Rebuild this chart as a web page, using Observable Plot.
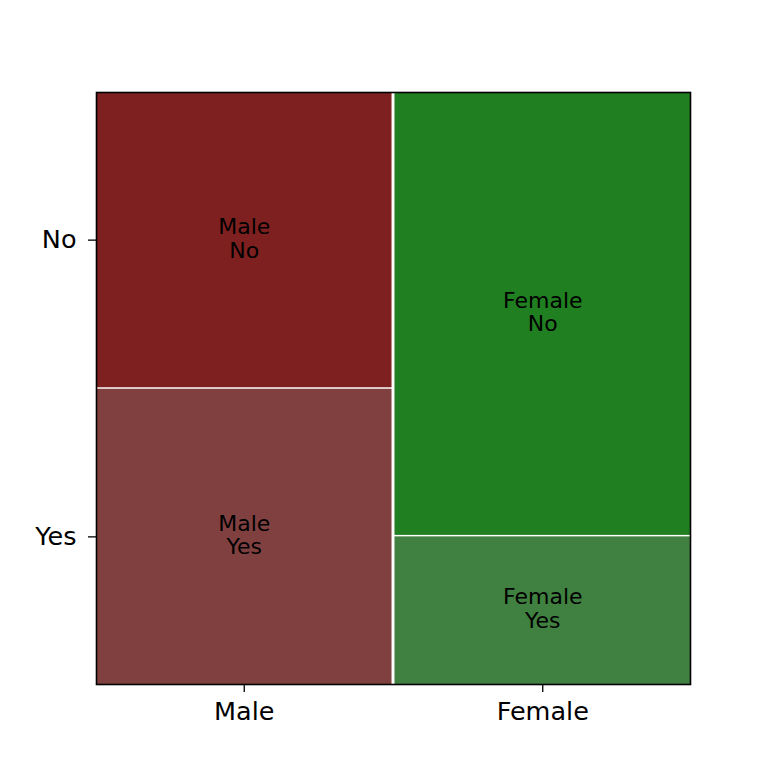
<!DOCTYPE html>
<html><head><meta charset="utf-8">
<script src="https://cdn.jsdelivr.net/npm/d3@7"></script>
<script src="https://cdn.jsdelivr.net/npm/@observablehq/plot@0.6"></script>
<style>body{margin:0;background:#fff}</style>
</head><body><div id="chart"></div>
<script>
const genders = ["Male", "Female"];
const answers = ["No", "Yes"];
const maleCounts = [50, 50];
const femaleCounts = [75, 25];
const tileColors = {"Male|No": "#7f2020", "Male|Yes": "#804040", "Female|No": "#207f20", "Female|Yes": "#408040"};

const counts = [maleCounts, femaleCounts];
const xgap = 0.005, ygap = 0.0025;
const grand = d3.sum(counts.flat());
const tiles = [];
let x0 = 0;
genders.forEach((g, i) => {
  const tot = d3.sum(counts[i]);
  const w = tot / grand * (1 - xgap * (genders.length - 1));
  let ytop = 1;
  answers.forEach((a, j) => {
    const h = counts[i][j] / tot * (1 - ygap * (answers.length - 1));
    tiles.push({gender: g, answer: a, x1: x0, x2: x0 + w, y1: ytop - h, y2: ytop,
      label: g + "\n" + a, color: tileColors[g + "|" + a]});
    ytop -= h + ygap;
  });
  x0 += w + xgap;
});
const xTicks = genders.map(g => { const t = tiles.find(d => d.gender === g); return (t.x1 + t.x2) / 2; });
const yTicks = answers.map(a => { const t = tiles.find(d => d.gender === genders[0] && d.answer === a); return (t.y1 + t.y2) / 2; });

const chart = Plot.plot({
  width: 768, height: 768,
  marginLeft: 96, marginRight: 78, marginTop: 92, marginBottom: 84,
  style: {fontFamily: "DejaVu Sans", background: "white"},
  x: {domain: [0, 1]},
  y: {domain: [0, 1]},
  color: {type: "identity"},
  marks: [
    Plot.rect(tiles, {x1: "x1", x2: "x2", y1: "y1", y2: "y2", fill: "color", inset: 0}),
    Plot.text(tiles, {x: d => (d.x1 + d.x2) / 2, y: d => (d.y1 + d.y2) / 2, text: "label",
      fontSize: 22, lineHeight: 1.08, dy: -2, fill: "black"}),
    Plot.frame({stroke: "black", strokeWidth: 1.6}),
    Plot.axisX(xTicks, {tickFormat: (d) => genders[xTicks.indexOf(d)], tickSize: 8, tickPadding: 9,
      fontSize: 25.5, stroke: "black", strokeWidth: 1.3, fill: "black", label: null}),
    Plot.axisY(yTicks, {tickFormat: (d) => answers[yTicks.indexOf(d)], tickSize: 8, tickPadding: 12,
      fontSize: 25.5, stroke: "black", strokeWidth: 1.3, fill: "black", label: null})
  ]
});
document.getElementById("chart").appendChild(chart);
</script>
</body></html>
